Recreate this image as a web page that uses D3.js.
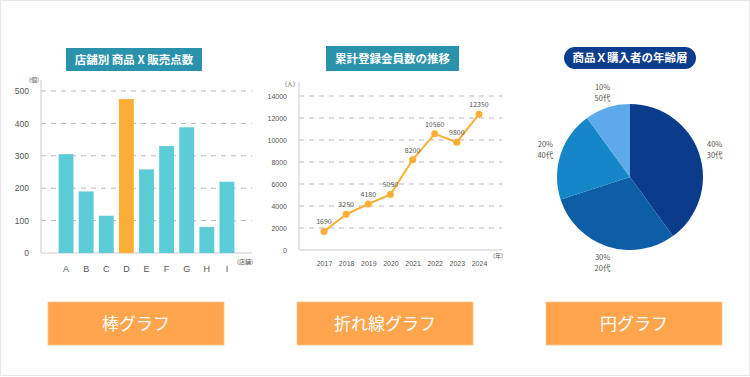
<!DOCTYPE html>
<html>
<head>
<meta charset="utf-8">
<title>グラフの種類</title>
<script src="https://d3js.org/d3.v7.min.js"></script>
<style>
  body { margin: 0; background: #fff; }
  svg { display: block; font-family: "Noto Sans CJK JP", "Noto Sans", sans-serif; }
  .tick text { fill: #555; }
</style>
</head>
<body>
<svg width="750" height="377"></svg>
<script>
// bar chart data
var stores = ['A', 'B', 'C', 'D', 'E', 'F', 'G', 'H', 'I'];
var sales = [305, 190, 115, 475, 258, 330, 388, 80, 220];
var barTicks = [0, 100, 200, 300, 400, 500];

// line chart data
var years = ['2017', '2018', '2019', '2020', '2021', '2022', '2023', '2024'];
var members = [1690, 3250, 4180, 5050, 8200, 10560, 9800, 12350];
var lineTicks = [0, 2000, 4000, 6000, 8000, 10000, 12000, 14000];

// pie data
var ageGroups = ['30代', '20代', '40代', '50代'];
var shares = [40, 30, 20, 10];
var pieColors = ['#0b3c8c', '#0d5ea6', '#1587c8', '#5ea9ea'];

var buttons = ['棒グラフ', '折れ線グラフ', '円グラフ'];

var svg = d3.select('svg');

// light frame
svg.append('rect')
  .attr('x', 0.5).attr('y', 0.5)
  .attr('width', 749).attr('height', 375)
  .attr('fill', 'none')
  .attr('stroke', '#e6e6e6');

function titleBox(x, y, w, h, text, color, rx) {
  svg.append('rect')
    .attr('x', x).attr('y', y).attr('width', w).attr('height', h)
    .attr('rx', rx).attr('fill', color);
  svg.append('text')
    .attr('x', x + w / 2).attr('y', y + h / 2 + 4)
    .attr('text-anchor', 'middle')
    .attr('fill', '#fff')
    .attr('font-size', 11.5)
    .attr('font-weight', 700)
    .text(text);
}

// ---------- bar chart ----------
titleBox(66, 48, 136, 23, '店舗別 商品 X 販売点数', '#2a92ab', 0);

var by = d3.scaleLinear().domain([0, 500]).range([253, 91]);
var bx = d3.scaleBand().domain(stores).range([56, 237]).paddingInner(0.26).paddingOuter(0.13);

var barG = svg.append('g');
barG.selectAll('line.grid')
  .data(barTicks.slice(1))
  .enter().append('line')
  .attr('x1', 41).attr('x2', 252)
  .attr('y1', function(d) { return by(d); })
  .attr('y2', function(d) { return by(d); })
  .attr('stroke', '#bbb')
  .attr('stroke-dasharray', '5,5');

barG.append('line')
  .attr('x1', 41).attr('x2', 41).attr('y1', 80).attr('y2', 253)
  .attr('stroke', '#ccc');
barG.append('line')
  .attr('x1', 41).attr('x2', 252).attr('y1', 253).attr('y2', 253)
  .attr('stroke', '#ccc');

var byAxis = barG.append('g')
  .attr('transform', 'translate(41,0)')
  .call(d3.axisLeft(by).tickValues(barTicks).tickSize(0).tickPadding(12));
byAxis.select('.domain').remove();
byAxis.selectAll('text').attr('font-size', 8.5);

barG.selectAll('rect.bar')
  .data(sales)
  .enter().append('rect')
  .attr('x', function(d, i) { return bx(stores[i]); })
  .attr('y', function(d) { return by(d); })
  .attr('width', bx.bandwidth())
  .attr('height', function(d) { return by(0) - by(d); })
  .attr('fill', function(d, i) { return stores[i] === 'D' ? '#fbae36' : '#5ccdd6'; });

var bxAxis = barG.append('g')
  .attr('transform', 'translate(0,253)')
  .call(d3.axisBottom(bx).tickSize(0).tickPadding(13));
bxAxis.select('.domain').remove();
bxAxis.selectAll('text').attr('font-size', 9);

barG.append('text').attr('x', 34).attr('y', 82).attr('text-anchor', 'middle')
  .attr('font-size', 6).attr('fill', '#555').text('(個)');
barG.append('text').attr('x', 245).attr('y', 264).attr('text-anchor', 'middle')
  .attr('font-size', 6).attr('fill', '#555').text('(店舗)');

// ---------- line chart ----------
titleBox(326, 46, 133, 25, '累計登録会員数の推移', '#2a92ab', 0);

var ly = d3.scaleLinear().domain([0, 14000]).range([250, 96]);
var lx = d3.scalePoint().domain(years).range([324, 479]);

var lineG = svg.append('g');
lineG.selectAll('line.grid')
  .data(lineTicks.slice(1))
  .enter().append('line')
  .attr('x1', 299).attr('x2', 502)
  .attr('y1', function(d) { return ly(d); })
  .attr('y2', function(d) { return ly(d); })
  .attr('stroke', '#bbb')
  .attr('stroke-dasharray', '5,5');
lineG.append('line')
  .attr('x1', 299).attr('x2', 299).attr('y1', 82).attr('y2', 250)
  .attr('stroke', '#ccc');
lineG.append('line')
  .attr('x1', 299).attr('x2', 502).attr('y1', 250).attr('y2', 250)
  .attr('stroke', '#ccc');

var lyAxis = lineG.append('g')
  .attr('transform', 'translate(299,0)')
  .call(d3.axisLeft(ly).tickValues(lineTicks).tickFormat(d3.format('d')).tickSize(0).tickPadding(12));
lyAxis.select('.domain').remove();
lyAxis.selectAll('text').attr('font-size', 7);

var lxAxis = lineG.append('g')
  .attr('transform', 'translate(0,250)')
  .call(d3.axisBottom(lx).tickSize(0).tickPadding(11));
lxAxis.select('.domain').remove();
lxAxis.selectAll('text').attr('font-size', 7);

var line = d3.line()
  .x(function(d, i) { return lx(years[i]); })
  .y(function(d) { return ly(d); });
lineG.append('path')
  .datum(members)
  .attr('d', line)
  .attr('fill', 'none')
  .attr('stroke', '#fbae36')
  .attr('stroke-width', 2);
lineG.selectAll('circle')
  .data(members)
  .enter().append('circle')
  .attr('cx', function(d, i) { return lx(years[i]); })
  .attr('cy', function(d) { return ly(d); })
  .attr('r', 3.5)
  .attr('fill', '#fbae36');
lineG.selectAll('text.val')
  .data(members)
  .enter().append('text')
  .attr('class', 'val')
  .attr('x', function(d, i) { return lx(years[i]); })
  .attr('y', function(d) { return ly(d) - 7; })
  .attr('text-anchor', 'middle')
  .attr('font-size', 7)
  .attr('fill', '#555')
  .text(function(d) { return d; });

lineG.append('text').attr('x', 290).attr('y', 86).attr('text-anchor', 'middle')
  .attr('font-size', 6).attr('fill', '#555').text('(人)');
lineG.append('text').attr('x', 498).attr('y', 258).attr('text-anchor', 'middle')
  .attr('font-size', 6).attr('fill', '#555').text('(年)');

// ---------- pie chart ----------
titleBox(564, 47, 132, 22, '商品Ｘ購入者の年齢層', '#0c3d8c', 11);

var pieG = svg.append('g').attr('transform', 'translate(630,177)');
var pie = d3.pie().sort(null).value(function(d) { return d; });
var arc = d3.arc().innerRadius(0).outerRadius(73);
var labelArc = d3.arc().innerRadius(89).outerRadius(89);
var arcs = pie(shares);

pieG.selectAll('path')
  .data(arcs)
  .enter().append('path')
  .attr('d', arc)
  .attr('fill', function(d, i) { return pieColors[i]; });

var lab = pieG.selectAll('text.lab')
  .data(arcs)
  .enter().append('text')
  .attr('class', 'lab')
  .attr('text-anchor', 'middle')
  .attr('font-size', 7.5)
  .attr('fill', '#555')
  .attr('transform', function(d) { var c = labelArc.centroid(d); return 'translate(' + c[0] + ',' + c[1] + ')'; });
lab.append('tspan').attr('x', 0).attr('y', -2).text(function(d, i) { return shares[i] + '%'; });
lab.append('tspan').attr('x', 0).attr('y', 9).text(function(d, i) { return ageGroups[i]; });

// ---------- buttons ----------
var btnX = [48, 297, 546];
buttons.forEach(function(b, i) {
  svg.append('rect')
    .attr('x', btnX[i]).attr('y', 302).attr('width', 176).attr('height', 43)
    .attr('fill', '#ffa54d')
    .attr('stroke', '#ffc98f').attr('stroke-width', 0.8);
  svg.append('text')
    .attr('x', btnX[i] + 88).attr('y', 330)
    .attr('text-anchor', 'middle')
    .attr('fill', '#fff')
    .attr('font-size', 17)
    .text(b);
});
</script>
</body>
</html>
